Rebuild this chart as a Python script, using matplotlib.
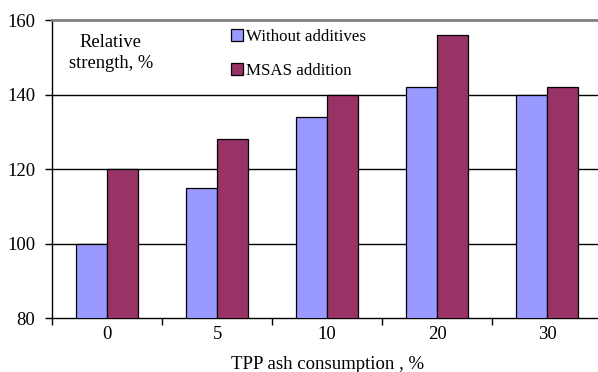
import numpy as np
import matplotlib
matplotlib.use("Agg")
import matplotlib.pyplot as plt

# valeurs
categories = ["0", "5", "10", "20", "30"]
without_additives = [100, 115, 134, 142, 140]
msas_addition = [120, 128, 140, 156, 142]
y_ticks = [80, 100, 120, 140, 160]

plt.rcParams['font.family'] = ['Liberation Serif', 'DejaVu Serif']

fig = plt.figure(figsize=(5.98, 3.72), dpi=100)
ax = fig.add_axes([0.087, 0.145, 0.92, 0.801])

x = np.arange(len(categories))
w = 0.28
ax.bar(x - w / 2, without_additives, w, color="#9999FF", edgecolor="black",
       linewidth=0.9, label="Without additives", zorder=3)
ax.bar(x + w / 2, msas_addition, w, color="#993366", edgecolor="black",
       linewidth=0.9, label="MSAS addition", zorder=3)

ax.set_ylim(80, 160)
ax.set_xlim(-0.5, len(categories) - 0.5)
ax.set_yticks(y_ticks)
ax.tick_params(axis='y', labelsize=13.5, length=5, width=1, direction='out', pad=7)

# graduations x entre les groupes
ax.set_xticks(x)
ax.set_xticklabels(categories, fontsize=13.5)
ax.tick_params(axis='x', which='major', length=0, pad=6)
ax.set_xticks(np.arange(-0.5, len(categories), 1), minor=True)
ax.tick_params(axis='x', which='minor', length=5, width=1, direction='out')

for v in y_ticks[1:-1]:
    ax.axhline(v, color="black", linewidth=1, zorder=1)

ax.spines['top'].set_color("#808080")
ax.spines['top'].set_linewidth(2)
ax.spines['right'].set_visible(False)
ax.spines['left'].set_linewidth(1)
ax.spines['bottom'].set_linewidth(1)

ax.set_xlabel("TPP ash consumption , %", fontsize=13.5, labelpad=9)

fig.text(0.185, 0.858, "Relative\nstrength, %", ha='center', va='center',
         fontsize=13.3, linespacing=1.35)

leg = ax.legend(loc='upper left', bbox_to_anchor=(0.375, 0.94),
                bbox_transform=fig.transFigure, frameon=False,
                fontsize=12.2, handlelength=0.7, handleheight=0.7,
                handletextpad=0.2, labelspacing=1.05, borderaxespad=0)

fig.savefig("out.png", dpi=100)
